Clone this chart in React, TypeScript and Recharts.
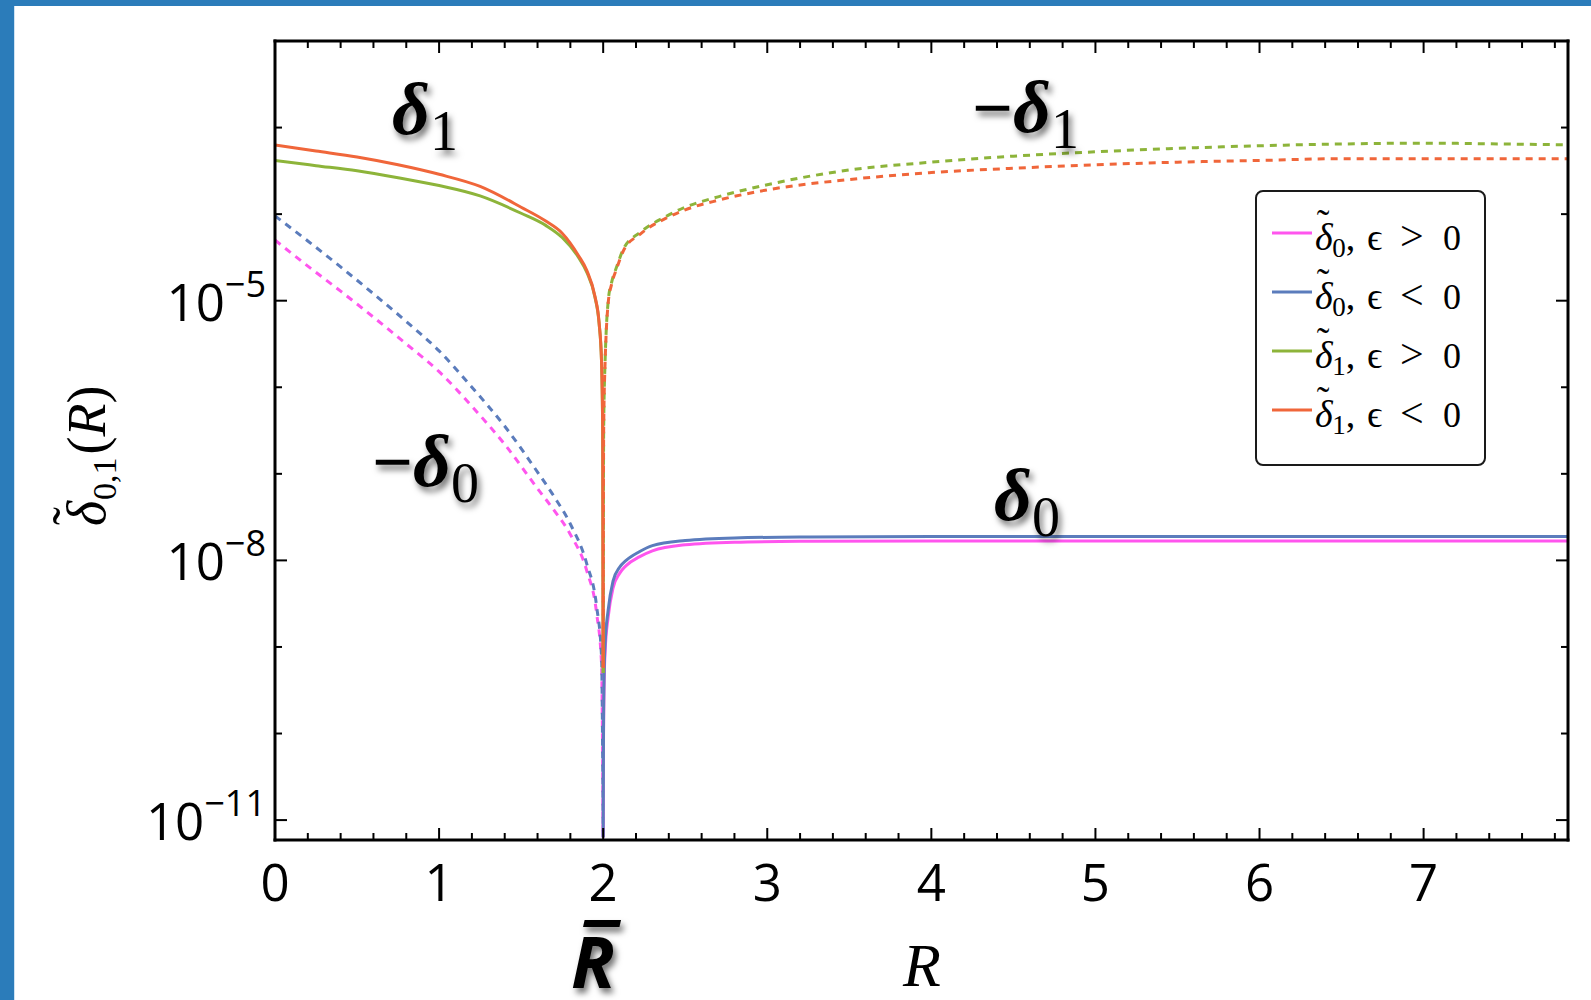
import { LineChart, Line, XAxis, YAxis } from "recharts";

// Values are log10 of the plotted quantity.
// δ1 (solid, left of R̄ = 2)
const rLeft1 = [0, 0.25, 0.5, 0.75, 1, 1.25, 1.5, 1.65, 1.75, 1.85, 1.9, 1.95, 1.975, 1.99, 1.997, 2];
const d1NegSolid = [-3.2, -3.27, -3.34, -3.43, -3.54, -3.68, -3.92, -4.08, -4.22, -4.48, -4.65, -4.95, -5.25, -5.7, -6.5, -9.24];
const d1PosSolid = [-3.38, -3.44, -3.5, -3.58, -3.67, -3.79, -3.99, -4.13, -4.27, -4.5, -4.67, -4.96, -5.26, -5.7, -6.5, -9.3];

// -δ1 (dashed, right of R̄)
const rRight1 = [2, 2.003, 2.012, 2.018, 2.032, 2.05, 2.084, 2.124, 2.226, 2.39, 2.5, 2.7, 3, 3.5, 4, 4.5, 5, 5.5, 6, 6.5, 7, 7.5, 7.88];
const d1NegDash = [-9.24, -6.5, -5.7, -5.39, -5.0, -4.82, -4.62, -4.42, -4.23, -4.04, -3.95, -3.84, -3.72, -3.6, -3.52, -3.47, -3.43, -3.4, -3.38, -3.36, -3.36, -3.36, -3.36];
const d1PosDash = [-9.3, -6.5, -5.68, -5.37, -4.98, -4.8, -4.6, -4.4, -4.21, -4.02, -3.92, -3.8, -3.66, -3.49, -3.4, -3.33, -3.28, -3.24, -3.21, -3.19, -3.18, -3.19, -3.2];

// -δ0 (dashed, left of R̄)
const rLeft0 = [0, 0.2, 0.4, 0.6, 0.8, 1, 1.2, 1.4, 1.6, 1.7, 1.8, 1.9, 1.96, 1.99, 2];
const d0NegDash = [-4.02, -4.31, -4.61, -4.92, -5.24, -5.58, -6.0, -6.45, -6.98, -7.26, -7.58, -8.04, -8.53, -9.11, -11.2];
const d0PosDash = [-4.3, -4.6, -4.89, -5.19, -5.5, -5.82, -6.22, -6.66, -7.17, -7.42, -7.7, -8.12, -8.61, -9.19, -11.2];

// δ0 (solid, right of R̄)
const rRight0 = [2, 2.002, 2.006, 2.012, 2.03, 2.06, 2.1, 2.14, 2.22, 2.3, 2.5, 2.8, 3.2, 4, 5, 6, 7, 7.88];
const d0NegSolid = [-11.2, -10.0, -9.3, -8.96, -8.58, -8.24, -8.08, -8.0, -7.9, -7.83, -7.77, -7.74, -7.73, -7.725, -7.725, -7.725, -7.725, -7.725];
const d0PosSolid = [-11.2, -10.1, -9.4, -9.05, -8.66, -8.32, -8.15, -8.06, -7.96, -7.89, -7.82, -7.79, -7.78, -7.775, -7.775, -7.775, -7.775, -7.775];

const xLabels = [0, 1, 2, 3, 4, 5, 6, 7];
const yExponents = [-11, -10, -9, -8, -7, -6, -5, -4, -3];
const yLabelled = [-5, -8, -11];

const legendSub = ["0", "0", "1", "1"];
const legendSign = [">", "<", ">", "<"];

const PINK = "#ff55ee";
const BLUE = "#5b7cbc";
const GREEN = "#8db43a";
const ORANGE = "#f0663a";
const legendColors = [PINK, BLUE, GREEN, ORANGE];

const X_MAX = 7.88;
const Y_MIN = Math.pow(10, -11.23);
const Y_MAX = 1e-2;

const SANS = "'Open Sans', 'DejaVu Sans', sans-serif";
const SERIF = "'Liberation Serif', 'DejaVu Serif', serif";

const pts = (r: number[], e: number[]) => r.map((x, i) => ({ r: x, v: Math.pow(10, e[i]) }));

const series = [
  { id: "d0p-dash", data: pts(rLeft0, d0PosDash), color: PINK, dash: true },
  { id: "d0n-dash", data: pts(rLeft0, d0NegDash), color: BLUE, dash: true },
  { id: "d0p", data: pts(rRight0, d0PosSolid), color: PINK, dash: false },
  { id: "d0n", data: pts(rRight0, d0NegSolid), color: BLUE, dash: false },
  { id: "d1p", data: pts(rLeft1, d1PosSolid), color: GREEN, dash: false },
  { id: "d1p-dash", data: pts(rRight1, d1PosDash), color: GREEN, dash: true },
  { id: "d1n", data: pts(rLeft1, d1NegSolid), color: ORANGE, dash: false },
  { id: "d1n-dash", data: pts(rRight1, d1NegDash), color: ORANGE, dash: true },
];

const xTicks = Array.from({ length: 40 }, (_, i) => i / 5);
const yTicks = yExponents.map(e => Math.pow(10, e));

const isMajorX = (v: number) => Math.abs(v - Math.round(v)) < 1e-6;
const expOf = (v: number) => Math.round(Math.log10(v));

function BottomTick({ x, y, payload }: any) {
  const v = payload.value as number;
  const major = isMajorX(v);
  return (
    <g>
      <line x1={x} x2={x} y1={y} y2={y - (major ? 12 : 7)} stroke="#000" strokeWidth={2} />
      {major && xLabels.includes(Math.round(v)) && (
        <text x={x} y={y + 61} textAnchor="middle" fontFamily={SANS} fontSize={51} fill="#000">
          {Math.round(v)}
        </text>
      )}
    </g>
  );
}

function TopTick({ x, y, payload }: any) {
  const major = isMajorX(payload.value);
  return <line x1={x} x2={x} y1={y} y2={y + (major ? 12 : 7)} stroke="#000" strokeWidth={2} />;
}

function LeftTick({ x, y, payload }: any) {
  const e = expOf(payload.value);
  const major = yLabelled.includes(e);
  return (
    <g>
      <line x1={x} x2={x + (major ? 12 : 7)} y1={y} y2={y} stroke="#000" strokeWidth={2} />
      {major && (
        <text x={x - 9} y={y + 20} textAnchor="end" fontFamily={SANS} fill="#000">
          <tspan fontSize={51}>10</tspan>
          <tspan fontSize={36} dy={-24}>{"\u2212" + Math.abs(e)}</tspan>
        </text>
      )}
    </g>
  );
}

function RightTick({ x, y, payload }: any) {
  const major = yLabelled.includes(expOf(payload.value));
  return <line x1={x} x2={x - (major ? 12 : 7)} y1={y} y2={y} stroke="#000" strokeWidth={2} />;
}

const frame = { stroke: "#000", strokeWidth: 3, strokeLinecap: "square" as const };

function Annotation({ x, y, minus, sub }: { x: number; y: number; minus: boolean; sub: string }) {
  return (
    <text x={x} y={y} fontFamily={SERIF} fill="#000" filter="url(#shade)">
      {minus && <tspan fontSize={72} fontWeight="bold">{"\u2212"}</tspan>}
      <tspan fontSize={74} fontWeight="bold" fontStyle="italic">δ</tspan>
      <tspan fontSize={56} dy={16}>{sub}</tspan>
    </text>
  );
}

function Overlay() {
  return (
    <svg width={1591} height={1000} style={{ position: "absolute", left: 0, top: 0, pointerEvents: "none" }}>
      <defs>
        <filter id="shade" x="-20%" y="-30%" width="150%" height="170%">
          <feDropShadow dx={3} dy={5} stdDeviation={3} floodColor="#000" floodOpacity={0.55} />
        </filter>
      </defs>

      <Annotation x={392} y={134} minus={false} sub="1" />
      <Annotation x={972} y={132} minus sub="1" />
      <Annotation x={372} y={486} minus sub="0" />
      <Annotation x={994} y={520} minus={false} sub="0" />

      {/* R bar below the axis */}
      <text x={571} y={988} fontFamily={SANS} fontWeight="bold" fontStyle="italic" fontSize={72} fill="#000" filter="url(#shade)">
        R<tspan dx={-38} dy={-6}>¯</tspan>
      </text>

      {/* axis titles */}
      <text x={903} y={986} fontFamily={SERIF} fontStyle="italic" fontSize={62} fill="#000">R</text>
      <g transform="rotate(-90 105 449)" fontFamily={SERIF} fill="#000">
        <text x={28} y={449} fontSize={54}>
          <tspan fontStyle="italic">δ</tspan>
          <tspan dx={-24} dy={-15}>˜</tspan>
          <tspan dx={7} dy={26} fontSize={34}>0,1</tspan>
          <tspan dx={3} dy={-11}>(</tspan>
          <tspan fontStyle="italic">R</tspan>
          <tspan>)</tspan>
        </text>
      </g>

      {/* legend */}
      <rect x={1256} y={191} width={229} height={274} rx={7} fill="#fff" stroke="#1a1a1a" strokeWidth={2} />
      {legendColors.map((c, i) => {
        const ly = 233 + i * 59;
        const by = ly + 17;
        return (
          <g key={c} fontFamily={SERIF} fill="#000">
            <line x1={1272} x2={1312} y1={ly} y2={ly} stroke={c} strokeWidth={3} />
            <text x={1315} y={by} fontSize={38}>
              <tspan fontStyle="italic">δ</tspan>
              <tspan dx={-16} dy={-14}>˜</tspan>
              <tspan dx={3} dy={21} fontSize={27}>{legendSub[i]}</tspan>
              <tspan dy={-7}>,</tspan>
            </text>
            <text x={1367} y={by} fontSize={38}>ϵ</text>
            <text x={1400} y={by} fontSize={42}>{legendSign[i]}</text>
            <text x={1443} y={by} fontSize={36}>0</text>
          </g>
        );
      })}
    </svg>
  );
}

export default function App() {
  return (
    <div style={{ position: "absolute", left: 0, top: 0, width: 1591, height: 1000, background: "#2b7cba", overflow: "hidden" }}>
      <div style={{ position: "absolute", left: 14, top: 6, right: 0, bottom: 0, background: "#fff", borderLeft: "1px solid #cfe3f3" }} />
      <div style={{ position: "absolute", left: 0, top: 0 }}>
        <LineChart width={1591} height={1000} margin={{ top: 40, right: 22, bottom: 0, left: 0 }}>
          <XAxis
            xAxisId="b"
            dataKey="r"
            type="number"
            domain={[0, X_MAX]}
            allowDataOverflow
            ticks={xTicks}
            interval={0}
            tickSize={0}
            tickMargin={0}
            height={160}
            axisLine={frame}
            tick={BottomTick}
          />
          <XAxis
            xAxisId="t"
            orientation="top"
            dataKey="r"
            type="number"
            domain={[0, X_MAX]}
            allowDataOverflow
            ticks={xTicks}
            interval={0}
            tickSize={0}
            tickMargin={0}
            height={1}
            axisLine={frame}
            tick={TopTick}
          />
          <YAxis
            yAxisId="l"
            type="number"
            scale="log"
            domain={[Y_MIN, Y_MAX]}
            allowDataOverflow
            ticks={yTicks}
            interval={0}
            tickSize={0}
            tickMargin={0}
            width={275}
            axisLine={frame}
            tick={LeftTick}
          />
          <YAxis
            yAxisId="rt"
            orientation="right"
            type="number"
            scale="log"
            domain={[Y_MIN, Y_MAX]}
            allowDataOverflow
            ticks={yTicks}
            interval={0}
            tickSize={0}
            tickMargin={0}
            width={1}
            axisLine={frame}
            tick={RightTick}
          />
          {series.map(s => (
            <Line
              key={s.id}
              xAxisId="b"
              yAxisId="l"
              data={s.data}
              dataKey="v"
              type="monotone"
              stroke={s.color}
              strokeWidth={3}
              strokeDasharray={s.dash ? "7 6" : undefined}
              dot={false}
              activeDot={false}
              isAnimationActive={false}
            />
          ))}
        </LineChart>
      </div>
      <Overlay />
    </div>
  );
}
